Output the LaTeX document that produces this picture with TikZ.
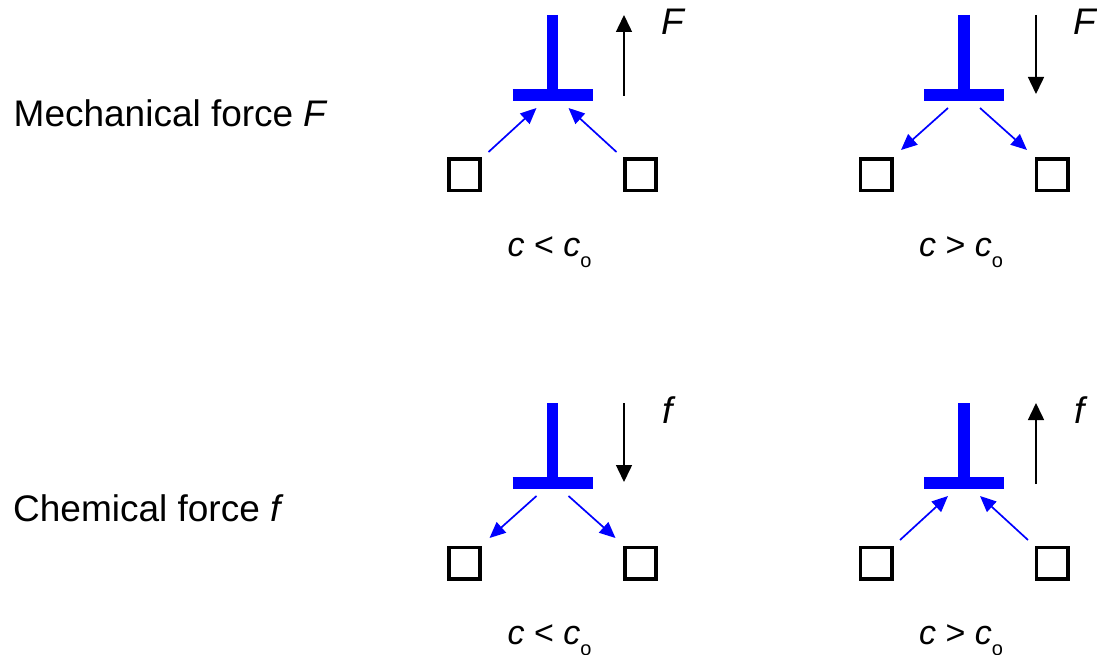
\documentclass[tikz,border=0pt]{standalone}
\usepackage{fontspec}
\setmainfont{Liberation Sans}
\usetikzlibrary{arrows.meta}
\definecolor{pureblue}{RGB}{0,0,255}
\newcommand\subo{\raisebox{-11pt}{\fontsize{20}{22}\selectfont o}}
\tikzset{
  tbar/.style={draw=pureblue, line width=11.5pt},
  site/.style={draw=black, line width=3.7pt, minimum size=31.3pt, inner sep=0pt},
  flow/.style={draw=pureblue, line width=1.7pt, -{Triangle[length=16pt,width=14pt]}},
  force/.style={draw=black, line width=1.5pt, -{Triangle[length=17pt,width=16pt]}},
  lab/.style={font=\fontsize{37}{40}\selectfont, inner sep=0pt, anchor=base west},
  clab/.style={font=\fontsize{34}{36}\selectfont, inner sep=0pt, anchor=base},
}
\begin{document}
\begin{tikzpicture}[x=1pt,y=-1pt]
\useasboundingbox (0,0) rectangle (1097,655);

% row titles
\node[lab] (mech) at (13.5,126.7) {Mechanical force \textit{F}};
\node[lab] (chem) at (13,521.7) {Chemical force \textit{f}};

% ---------- panel 1: mechanical, c < co ----------
\begin{scope}[shift={(552.5,0)}]
  \coordinate (p1top) at (0,15);
  \coordinate (p1mid) at (0,95);
  \coordinate (p1l) at (-40,95);
  \coordinate (p1r) at (40,95);
  \draw[tbar] (p1top) -- (p1mid);
  \draw[tbar] (p1l) -- (p1r);
  \node[site] (p1a) at (-88,175) {};
  \node[site] (p1b) at (88,175) {};
  \coordinate (p1ac) at (-64,152);
  \coordinate (p1bc) at (64,152);
  \coordinate (p1ai) at (-16,108);
  \coordinate (p1bi) at (16,108);
  \draw[flow] (p1ac) -- (p1ai);
  \draw[flow] (p1bc) -- (p1bi);
  \coordinate (p1f0) at (71.5,96);
  \coordinate (p1f1) at (71.5,15);
  \draw[force] (p1f0) -- (p1f1);
  \node[lab] (p1F) at (109,35) {\textit{F}};
  \node[clab] (p1c) at (-3,256.7) {\textit{c} < \textit{c}\subo};
\end{scope}

% ---------- panel 2: mechanical, c > co ----------
\begin{scope}[shift={(964,0)}]
  \coordinate (p2top) at (0,15);
  \coordinate (p2mid) at (0,95);
  \coordinate (p2l) at (-40,95);
  \coordinate (p2r) at (40,95);
  \draw[tbar] (p2top) -- (p2mid);
  \draw[tbar] (p2l) -- (p2r);
  \node[site] (p2a) at (-88,175) {};
  \node[site] (p2b) at (88,175) {};
  \coordinate (p2ac) at (-63,150);
  \coordinate (p2bc) at (63,150);
  \coordinate (p2ai) at (-16,108);
  \coordinate (p2bi) at (16,108);
  \draw[flow] (p2ai) -- (p2ac);
  \draw[flow] (p2bi) -- (p2bc);
  \coordinate (p2f0) at (72,15);
  \coordinate (p2f1) at (72,94);
  \draw[force] (p2f0) -- (p2f1);
  \node[lab] (p2F) at (109,35) {\textit{F}};
  \node[clab] (p2c) at (-3,256.7) {\textit{c} > \textit{c}\subo};
\end{scope}

% ---------- panel 3: chemical, c < co ----------
\begin{scope}[shift={(552.5,388)}]
  \coordinate (p3top) at (0,15);
  \coordinate (p3mid) at (0,95);
  \coordinate (p3l) at (-40,95);
  \coordinate (p3r) at (40,95);
  \draw[tbar] (p3top) -- (p3mid);
  \draw[tbar] (p3l) -- (p3r);
  \node[site] (p3a) at (-88,175) {};
  \node[site] (p3b) at (88,175) {};
  \coordinate (p3ac) at (-63,150);
  \coordinate (p3bc) at (63,150);
  \coordinate (p3ai) at (-16,108);
  \coordinate (p3bi) at (16,108);
  \draw[flow] (p3ai) -- (p3ac);
  \draw[flow] (p3bi) -- (p3bc);
  \coordinate (p3f0) at (71.5,15);
  \coordinate (p3f1) at (71.5,94);
  \draw[force] (p3f0) -- (p3f1);
  \node[lab] (p3f) at (110,35) {\textit{f}};
  \node[clab] (p3c) at (-3,256.7) {\textit{c} < \textit{c}\subo};
\end{scope}

% ---------- panel 4: chemical, c > co ----------
\begin{scope}[shift={(964,388)}]
  \coordinate (p4top) at (0,15);
  \coordinate (p4mid) at (0,95);
  \coordinate (p4l) at (-40,95);
  \coordinate (p4r) at (40,95);
  \draw[tbar] (p4top) -- (p4mid);
  \draw[tbar] (p4l) -- (p4r);
  \node[site] (p4a) at (-88,175) {};
  \node[site] (p4b) at (88,175) {};
  \coordinate (p4ac) at (-64,152);
  \coordinate (p4bc) at (64,152);
  \coordinate (p4ai) at (-16,108);
  \coordinate (p4bi) at (16,108);
  \draw[flow] (p4ac) -- (p4ai);
  \draw[flow] (p4bc) -- (p4bi);
  \coordinate (p4f0) at (72,96);
  \coordinate (p4f1) at (72,15);
  \draw[force] (p4f0) -- (p4f1);
  \node[lab] (p4f) at (110,35) {\textit{f}};
  \node[clab] (p4c) at (-3,256.7) {\textit{c} > \textit{c}\subo};
\end{scope}
\end{tikzpicture}
\end{document}
